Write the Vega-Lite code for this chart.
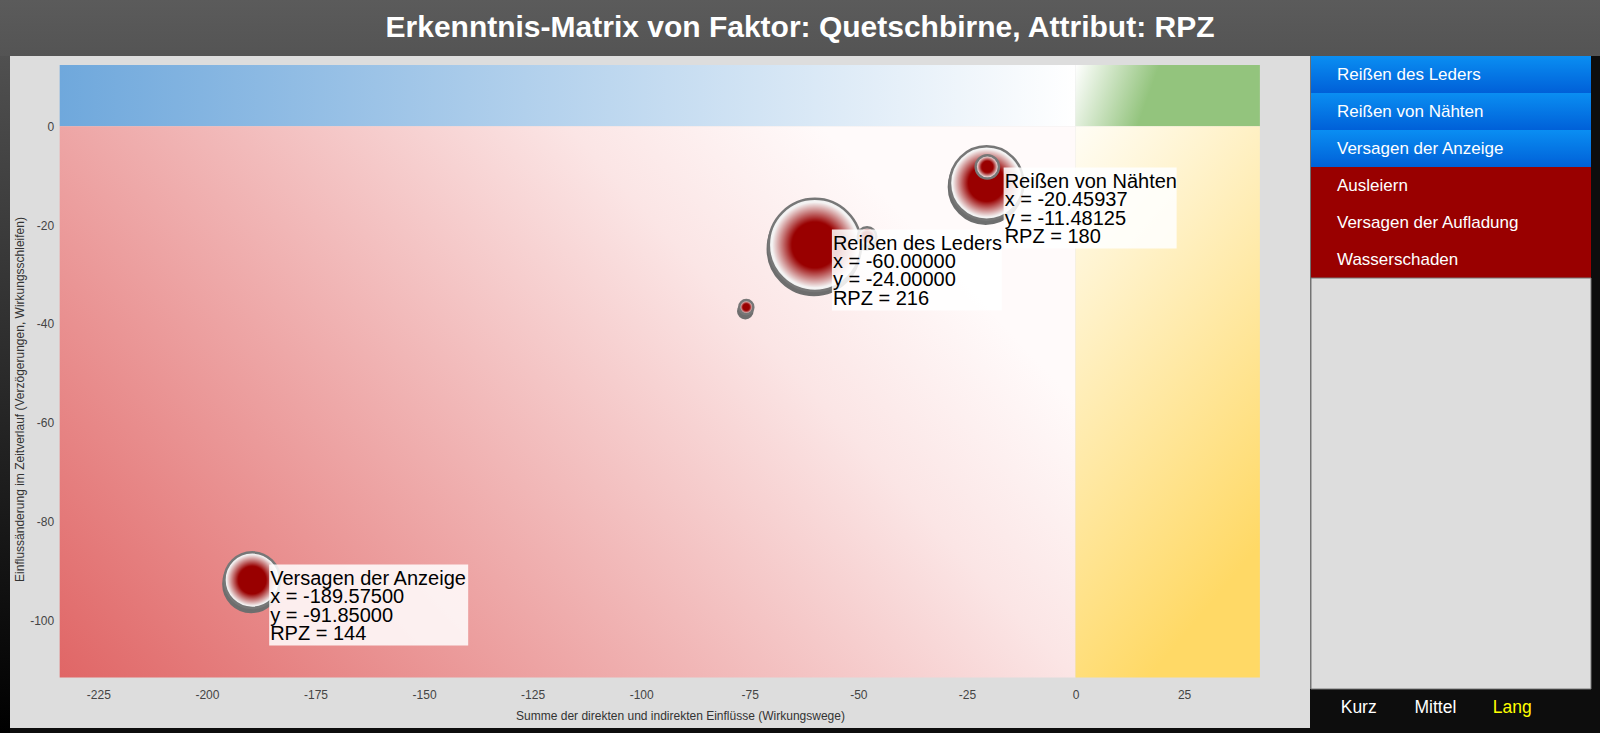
{
  "$schema": "https://vega.github.io/schema/vega-lite/v6.json",
  "padding": 0,
  "background": "#0d0d0d",
  "spacing": 0,
  "bounds": "flush",
  "config": {
    "view": {"stroke": null},
    "font": "Liberation Sans",
    "axis": {"grid": false}
  },
  "datasets": {
    "items": [
      {"name": "Reißen des Leders", "x": -60, "y": -24, "rpz": 216, "selected": true},
      {"name": "Reißen von Nähten", "x": -20.45937, "y": -11.48125, "rpz": 180, "selected": true},
      {"name": "Versagen der Anzeige", "x": -189.575, "y": -91.85, "rpz": 144, "selected": true},
      {"name": "Ausleiern", "x": -48, "y": -22.3, "rpz": 60, "selected": false},
      {"name": "Versagen der Aufladung", "x": -75.8, "y": -36.6, "rpz": 48, "selected": false},
      {"name": "Wasserschaden", "x": -20.3, "y": -8.2, "rpz": 72, "selected": false}
    ],
    "regions": [
      {"region": "blue", "x": -233.9, "x2": 0, "y": 0, "y2": 12.41},
      {"region": "green", "x": 0, "x2": 42.46, "y": 0, "y2": 12.41},
      {"region": "red", "x": -233.9, "x2": 0, "y": -111.55, "y2": 0},
      {"region": "yellow", "x": 0, "x2": 42.46, "y": -111.55, "y2": 0}
    ],
    "horizons": [
      {"label": "Kurz", "active": false},
      {"label": "Mittel", "active": false},
      {"label": "Lang", "active": true}
    ],
    "heading": [
      {"text": "Erkenntnis-Matrix von Faktor: Quetschbirne, Attribut: RPZ"}
    ]
  },
  "vconcat": [
    {
      "width": 1600,
      "height": 56,
      "data": {"name": "heading"},
      "layer": [
        {
          "mark": {"type": "rect", "color": {"gradient": "linear", "x1": 0, "y1": 0, "x2": 0, "y2": 1, "stops": [{"offset": 0, "color": "#5b5b5b"}, {"offset": 1, "color": "#545454"}]}},
          "encoding": {}
        },
        {
          "mark": {"type": "text", "color": "#ffffff", "fontSize": 30, "fontWeight": "bold", "baseline": "middle", "align": "center"},
          "encoding": {"text": {"field": "text"}}
        }
      ]
    },
    {
      "spacing": 0,
      "bounds": "flush",
      "hconcat": [
        {
          "width": 10,
          "height": 677,
          "data": {"values": [{}]},
          "mark": {"type": "rect", "color": {"gradient": "linear", "x1": 0, "y1": 0, "x2": 0, "y2": 1, "stops": [{"offset": 0, "color": "#505050"}, {"offset": 1, "color": "#000000"}]}},
          "encoding": {}
        },
        {
          "width": 1300,
          "height": 672,
          "view": {"fill": "#dddddd", "stroke": null},
          "encoding": {
            "x": {
              "field": "x", "type": "quantitative",
              "scale": {"domain": [-245.34, 54.0], "nice": false, "zero": false},
              "axis": {
                "values": [-225, -200, -175, -150, -125, -100, -75, -50, -25, 0, 25],
                "offset": -50.5, "domain": false, "ticks": false, "tickSize": 0,
                "labelPadding": 12, "labelFontSize": 12, "labelColor": "#444444",
                "labelExpr": "'' + datum.value",
                "title": "Summe der direkten und indirekten Einflüsse (Wirkungswege)",
                "titleFontSize": 12, "titleFontWeight": "normal", "titleColor": "#333333",
                "titleX": 670, "titleY": 37.5, "titleBaseline": "middle"
              }
            },
            "y": {
              "field": "y", "type": "quantitative",
              "scale": {"domain": [-121.78, 14.23], "nice": false, "zero": false},
              "axis": {
                "values": [0, -20, -40, -60, -80, -100],
                "offset": -49.7, "domain": false, "ticks": false, "tickSize": 0,
                "labelPadding": 6, "labelFontSize": 12, "labelColor": "#444444",
                "labelExpr": "'' + datum.value",
                "title": "Einflussänderung im Zeitverlauf (Verzögerungen, Wirkungsschleifen)",
                "titleFontSize": 12, "titleFontWeight": "normal", "titleColor": "#333333",
                "titleX": -40, "titleY": 343, "titleBaseline": "middle"
              }
            }
          },
          "layer": [
            {
              "data": {"name": "regions"},
              "transform": [{"filter": "datum.region == 'blue'"}],
              "mark": {"type": "rect", "color": {"gradient": "linear", "x1": 0, "y1": 0, "x2": 1, "y2": 0, "stops": [{"offset": 0, "color": "#6fa8dc"}, {"offset": 1, "color": "#ffffff"}]}},
              "encoding": {"x2": {"field": "x2"}, "y2": {"field": "y2"}}
            },
            {
              "data": {"name": "regions"},
              "transform": [{"filter": "datum.region == 'green'"}],
              "mark": {"type": "rect", "color": {"gradient": "linear", "x1": 0, "y1": 0, "x2": 1, "y2": 0.12, "stops": [{"offset": 0, "color": "#ffffff"}, {"offset": 0.45, "color": "#93c47d"}, {"offset": 1, "color": "#93c47d"}]}},
              "encoding": {"x2": {"field": "x2"}, "y2": {"field": "y2"}}
            },
            {
              "data": {"name": "regions"},
              "transform": [{"filter": "datum.region == 'red'"}],
              "mark": {"type": "rect", "color": {"gradient": "linear", "x1": 0, "y1": 1, "x2": 1, "y2": 0.5, "stops": [{"offset": 0, "color": "#e06666"}, {"offset": 0.8, "color": "#fbe5e5"}, {"offset": 1, "color": "#fffafa"}]}},
              "encoding": {"x2": {"field": "x2"}, "y2": {"field": "y2"}}
            },
            {
              "data": {"name": "regions"},
              "transform": [{"filter": "datum.region == 'yellow'"}],
              "mark": {"type": "rect", "color": {"gradient": "linear", "x1": 0, "y1": 0, "x2": 0.4, "y2": 1, "stops": [{"offset": 0, "color": "#fffdf5"}, {"offset": 1, "color": "#ffd966"}]}},
              "encoding": {"x2": {"field": "x2"}, "y2": {"field": "y2"}}
            },
            {
              "data": {"name": "items"},
              "mark": {"type": "circle", "color": "#6e6e6e", "stroke": "#6e6e6e", "strokeWidth": 2.5, "opacity": 1, "yOffset": 4, "xOffset": -1},
              "encoding": {
                "size": {"field": "rpz", "type": "quantitative", "scale": {"type": "pow", "exponent": 2.5, "domain": [0, 216], "range": [0, 8501]}, "legend": null}
              }
            },
            {
              "data": {"name": "items"},
              "mark": {
                "type": "circle", "opacity": 1, "stroke": "#777777", "strokeWidth": 2.5,
                "fill": {"gradient": "radial", "x1": 0.5, "y1": 0.5, "r1": 0, "x2": 0.5, "y2": 0.5, "r2": 0.5, "stops": [{"offset": 0, "color": "#990000"}, {"offset": 0.5, "color": "#990000"}, {"offset": 0.93, "color": "#f5f5f5"}, {"offset": 1, "color": "#eeeeee"}]}
              },
              "encoding": {
                "size": {"field": "rpz", "type": "quantitative", "scale": {"type": "pow", "exponent": 2.5, "domain": [0, 216], "range": [0, 8501]}, "legend": null}
              }
            },
            {
              "data": {"name": "items"},
              "transform": [{"filter": "datum.name == 'Reißen des Leders'"}],
              "mark": {"type": "rect", "color": "#ffffff", "opacity": 0.85, "xOffset": 17, "x2Offset": 187, "yOffset": -15.5, "y2Offset": 65.5},
              "encoding": {"x2": {"field": "x"}, "y2": {"field": "y"}}
            },
            {
              "data": {"name": "items"},
              "transform": [{"filter": "datum.name == 'Reißen von Nähten'"}],
              "mark": {"type": "rect", "color": "#ffffff", "opacity": 0.85, "xOffset": 17, "x2Offset": 190, "yOffset": -15.5, "y2Offset": 65.5},
              "encoding": {"x2": {"field": "x"}, "y2": {"field": "y"}}
            },
            {
              "data": {"name": "items"},
              "transform": [{"filter": "datum.name == 'Versagen der Anzeige'"}],
              "mark": {"type": "rect", "color": "#ffffff", "opacity": 0.85, "xOffset": 17, "x2Offset": 216, "yOffset": -15.5, "y2Offset": 65.5},
              "encoding": {"x2": {"field": "x"}, "y2": {"field": "y"}}
            },
            {
              "data": {"name": "items"},
              "transform": [
                {"filter": "datum.selected"},
                {"calculate": "[datum.name, 'x = ' + (datum.x < 0 ? '-' : '') + format(abs(datum.x), '.5f'), 'y = ' + (datum.y < 0 ? '-' : '') + format(abs(datum.y), '.5f'), 'RPZ = ' + datum.rpz]", "as": "label"}
              ],
              "mark": {"type": "text", "align": "left", "baseline": "top", "dx": 18, "dy": -11, "fontSize": 20, "lineHeight": 18.3, "color": "#000000"},
              "encoding": {"text": {"field": "label"}}
            }
          ]
        },
        {
          "width": 1,
          "height": 633,
          "data": {"values": [{}]},
          "mark": {"type": "rect", "color": "#707070"},
          "encoding": {}
        },
        {
          "spacing": 0,
          "bounds": "flush",
          "vconcat": [
            {
              "width": 280,
              "height": 222,
              "data": {"name": "items"},
              "encoding": {
                "y": {"field": "name", "type": "nominal", "sort": null, "axis": null, "scale": {"paddingInner": 0, "paddingOuter": 0}}
              },
              "layer": [
                {"mark": {"type": "rect", "color": "#990000"}},
                {
                  "transform": [{"filter": "datum.selected"}],
                  "mark": {"type": "rect", "color": {"gradient": "linear", "x1": 0, "y1": 0, "x2": 0, "y2": 1, "stops": [{"offset": 0, "color": "#0a8ef2"}, {"offset": 1, "color": "#0060d8"}]}}
                },
                {
                  "mark": {"type": "text", "align": "left", "baseline": "middle", "dx": -114, "fontSize": 17, "color": "#ffffff"},
                  "encoding": {"text": {"field": "name"}}
                }
              ]
            },
            {
              "width": 280,
              "height": 411,
              "data": {"values": [{}]},
              "mark": {"type": "rect", "color": "#dddddd", "stroke": "#777777", "strokeWidth": 1},
              "encoding": {}
            },
            {
              "width": 280,
              "height": 44,
              "data": {"name": "horizons"},
              "mark": {"type": "text", "fontSize": 17.5, "baseline": "middle", "align": "center", "dy": -3},
              "encoding": {
                "x": {"field": "label", "type": "nominal", "sort": null, "axis": null, "scale": {"type": "point", "padding": 0, "range": [47.7, 201.2]}},
                "text": {"field": "label"},
                "color": {"condition": {"test": "datum.active", "value": "#ffff00"}, "value": "#ffffff"}
              }
            }
          ]
        }
      ]
    }
  ]
}
